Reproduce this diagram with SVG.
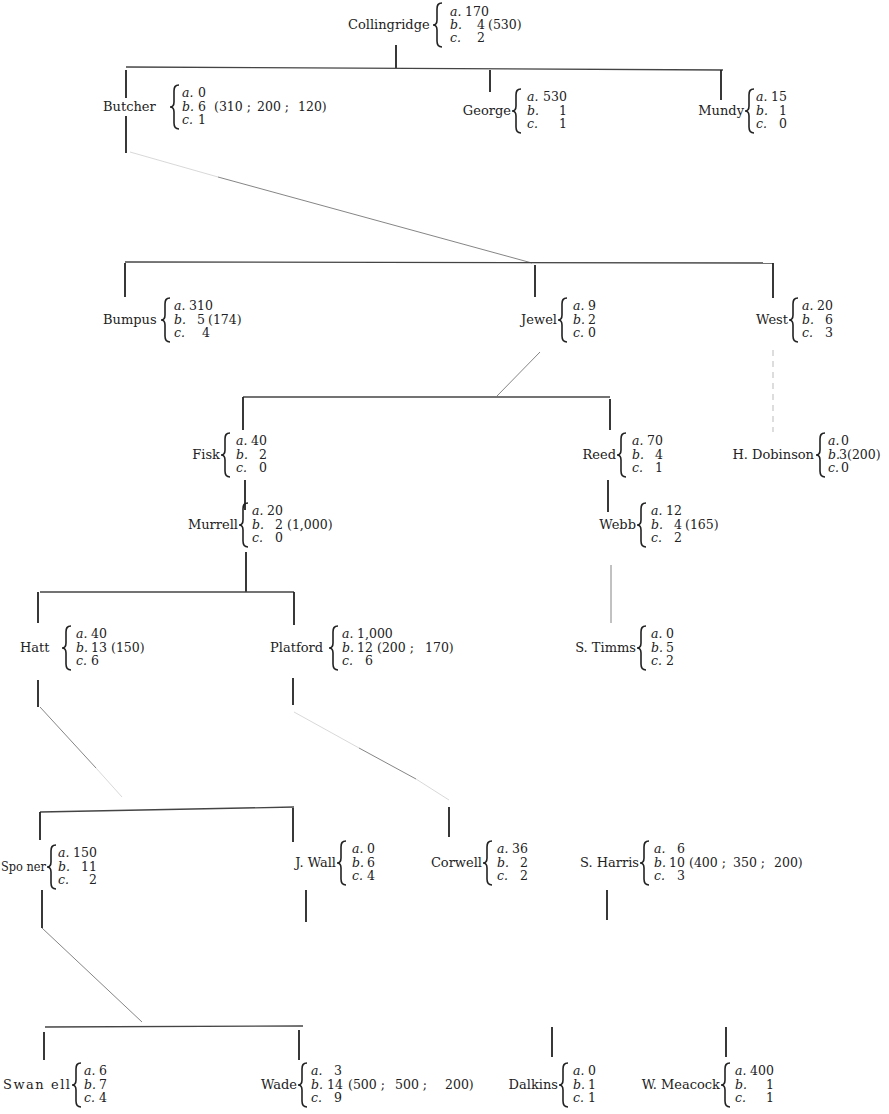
<svg xmlns="http://www.w3.org/2000/svg" xmlns:xlink="http://www.w3.org/1999/xlink" width="889" height="1114" viewBox="0 0 889 1114">
<style>
text{font-family:"DejaVu Serif","Liberation Serif",serif;fill:#222}
.n{font-size:13px}
.e{text-anchor:end}
.r{font-size:12.5px}
.i{font-style:italic}
.v{stroke:#222;stroke-width:1.8;fill:none}
.h{stroke:#444;stroke-width:1.3;fill:none}
.d{stroke:#777;stroke-width:0.9;fill:none}
.g{stroke:#d4d4d4;stroke-width:0.9;fill:none}
.f{stroke:#bbb;stroke-width:1;fill:none;stroke-dasharray:6 5}
.b{stroke:#222;stroke-width:1.6;fill:none}
</style>
<defs>
<path id="br" class="b" d="M9,0 C5,0 4,2 4,6 L4,17 C4,20 3,22 0,22 C3,22 4,24 4,27 L4,38 C4,42 5,44 9,44"/>
</defs>
<rect width="889" height="1114" fill="#fff"/>
<g id="connectors">
<line class="v" x1="396" y1="45" x2="396" y2="68"/>
<line class="h" x1="126" y1="67" x2="723" y2="70"/>
<line class="v" x1="126" y1="70" x2="126" y2="98"/>
<line class="v" x1="126" y1="116" x2="126" y2="153"/>
<line class="v" x1="490" y1="70" x2="490" y2="92"/>
<line class="v" x1="721" y1="70" x2="721" y2="100"/>
<line class="g" x1="130" y1="152" x2="218" y2="177"/>
<line class="d" x1="218" y1="177" x2="532" y2="263"/>
<line class="h" x1="125" y1="262" x2="773" y2="263"/>
<line class="v" x1="125" y1="263" x2="125" y2="297"/>
<line class="v" x1="535" y1="265" x2="535" y2="297"/>
<line class="v" x1="773" y1="263" x2="773" y2="298"/>
<line class="f" x1="773" y1="350" x2="773" y2="432"/>
<line class="d" x1="540" y1="352" x2="497" y2="396"/>
<line class="h" x1="243" y1="397" x2="610" y2="397"/>
<line class="v" x1="243" y1="397" x2="243" y2="430"/>
<line class="v" x1="610" y1="399" x2="610" y2="430"/>
<line class="v" x1="245" y1="480" x2="245" y2="510"/>
<line class="v" x1="608" y1="480" x2="608" y2="512"/>
<line class="v" x1="246" y1="552" x2="246" y2="592"/>
<line class="h" x1="40" y1="592" x2="294" y2="592"/>
<line class="v" x1="38" y1="592" x2="38" y2="623"/>
<line class="v" x1="294" y1="592" x2="294" y2="625"/>
<line class="d" x1="611" y1="565" x2="611" y2="623"/>
<line class="v" x1="38" y1="680" x2="38" y2="707"/>
<line class="v" x1="293" y1="678" x2="293" y2="705"/>
<line class="d" x1="40" y1="707" x2="96" y2="768"/>
<line class="g" x1="96" y1="768" x2="122" y2="797"/>
<line class="g" x1="294" y1="712" x2="359" y2="748"/>
<line class="d" x1="359" y1="748" x2="416" y2="779"/>
<line class="g" x1="416" y1="779" x2="449" y2="800"/>
<line class="h" x1="40" y1="812" x2="294" y2="807"/>
<line class="v" x1="40" y1="812" x2="40" y2="840"/>
<line class="v" x1="293" y1="808" x2="293" y2="842"/>
<line class="v" x1="449" y1="807" x2="449" y2="837"/>
<line class="v" x1="42" y1="890" x2="42" y2="928"/>
<line class="v" x1="306" y1="890" x2="306" y2="922"/>
<line class="v" x1="607" y1="890" x2="607" y2="920"/>
<line class="d" x1="42" y1="928" x2="142" y2="1022"/>
<line class="h" x1="45" y1="1027" x2="303" y2="1026"/>
<line class="v" x1="44" y1="1032" x2="44" y2="1060"/>
<line class="v" x1="299" y1="1030" x2="299" y2="1060"/>
<line class="v" x1="552" y1="1027" x2="552" y2="1057"/>
<line class="v" x1="726" y1="1027" x2="726" y2="1057"/>
</g>
<g id="collingridge">
<text class="n" x="348" y="29">Collingridge</text>
<use xlink:href="#br" x="433" y="3"/>
<text class="r" x="450" y="16"><tspan class="i">a.</tspan><tspan x="465">170</tspan></text>
<text class="r" x="450" y="29"><tspan class="i">b.</tspan><tspan x="477">4</tspan><tspan x="488">(530)</tspan></text>
<text class="r" x="450" y="42"><tspan class="i">c.</tspan><tspan x="477">2</tspan></text>
</g>
<g id="butcher">
<text class="n" x="103" y="111">Butcher</text>
<use xlink:href="#br" x="170" y="85"/>
<text class="r" x="182" y="97"><tspan class="i">a.</tspan><tspan x="198">0</tspan></text>
<text class="r" x="182" y="111"><tspan class="i">b.</tspan><tspan x="198">6</tspan><tspan x="214">(310 ;</tspan><tspan x="257">200 ;</tspan><tspan x="298">120)</tspan></text>
<text class="r" x="182" y="124"><tspan class="i">c.</tspan><tspan x="198">1</tspan></text>
</g>
<g id="george">
<text class="n e" x="511" y="115">George</text>
<use xlink:href="#br" x="512" y="89"/>
<text class="r" x="527" y="101"><tspan class="i">a.</tspan><tspan x="543">530</tspan></text>
<text class="r" x="527" y="115"><tspan class="i">b.</tspan><tspan x="559">1</tspan></text>
<text class="r" x="527" y="128"><tspan class="i">c.</tspan><tspan x="559">1</tspan></text>
</g>
<g id="mundy">
<text class="n e" x="744" y="115">Mundy</text>
<use xlink:href="#br" x="745" y="89"/>
<text class="r" x="756" y="101"><tspan class="i">a.</tspan><tspan x="771">15</tspan></text>
<text class="r" x="756" y="115"><tspan class="i">b.</tspan><tspan x="779">1</tspan></text>
<text class="r" x="756" y="128"><tspan class="i">c.</tspan><tspan x="779">0</tspan></text>
</g>
<g id="bumpus">
<text class="n" x="103" y="324">Bumpus</text>
<use xlink:href="#br" x="161" y="298"/>
<text class="r" x="174" y="310"><tspan class="i">a.</tspan><tspan x="189">310</tspan></text>
<text class="r" x="174" y="324"><tspan class="i">b.</tspan><tspan x="197">5</tspan><tspan x="208">(174)</tspan></text>
<text class="r" x="174" y="337"><tspan class="i">c.</tspan><tspan x="202">4</tspan></text>
</g>
<g id="jewel">
<text class="n e" x="557" y="324">Jewel</text>
<use xlink:href="#br" x="558" y="298"/>
<text class="r" x="573" y="310"><tspan class="i">a.</tspan><tspan x="588">9</tspan></text>
<text class="r" x="573" y="324"><tspan class="i">b.</tspan><tspan x="588">2</tspan></text>
<text class="r" x="573" y="337"><tspan class="i">c.</tspan><tspan x="588">0</tspan></text>
</g>
<g id="west">
<text class="n e" x="788" y="324">West</text>
<use xlink:href="#br" x="789" y="298"/>
<text class="r" x="802" y="310"><tspan class="i">a.</tspan><tspan x="817">20</tspan></text>
<text class="r" x="802" y="324"><tspan class="i">b.</tspan><tspan x="825">6</tspan></text>
<text class="r" x="802" y="337"><tspan class="i">c.</tspan><tspan x="825">3</tspan></text>
</g>
<g id="fisk">
<text class="n e" x="220" y="459">Fisk</text>
<use xlink:href="#br" x="221" y="433"/>
<text class="r" x="236" y="445"><tspan class="i">a.</tspan><tspan x="251">40</tspan></text>
<text class="r" x="236" y="459"><tspan class="i">b.</tspan><tspan x="259">2</tspan></text>
<text class="r" x="236" y="472"><tspan class="i">c.</tspan><tspan x="259">0</tspan></text>
</g>
<g id="reed">
<text class="n e" x="616" y="459">Reed</text>
<use xlink:href="#br" x="617" y="433"/>
<text class="r" x="632" y="445"><tspan class="i">a.</tspan><tspan x="647">70</tspan></text>
<text class="r" x="632" y="459"><tspan class="i">b.</tspan><tspan x="655">4</tspan></text>
<text class="r" x="632" y="472"><tspan class="i">c.</tspan><tspan x="655">1</tspan></text>
</g>
<g id="h-dobinson">
<text class="n e" x="814" y="459">H. Dobinson</text>
<use xlink:href="#br" x="816" y="433"/>
<text class="r" x="828" y="445"><tspan class="i">a.</tspan><tspan x="841">0</tspan></text>
<text class="r" x="828" y="459"><tspan class="i">b.</tspan><tspan x="839">3</tspan><tspan x="847">(200)</tspan></text>
<text class="r" x="828" y="472"><tspan class="i">c.</tspan><tspan x="841">0</tspan></text>
</g>
<g id="murrell">
<text class="n e" x="238" y="529">Murrell</text>
<use xlink:href="#br" x="239" y="503"/>
<text class="r" x="252" y="515"><tspan class="i">a.</tspan><tspan x="267">20</tspan></text>
<text class="r" x="252" y="529"><tspan class="i">b.</tspan><tspan x="275">2</tspan><tspan x="287">(1,000)</tspan></text>
<text class="r" x="252" y="542"><tspan class="i">c.</tspan><tspan x="275">0</tspan></text>
</g>
<g id="webb">
<text class="n e" x="636" y="529">Webb</text>
<use xlink:href="#br" x="637" y="503"/>
<text class="r" x="651" y="515"><tspan class="i">a.</tspan><tspan x="666">12</tspan></text>
<text class="r" x="651" y="529"><tspan class="i">b.</tspan><tspan x="674">4</tspan><tspan x="685">(165)</tspan></text>
<text class="r" x="651" y="542"><tspan class="i">c.</tspan><tspan x="674">2</tspan></text>
</g>
<g id="hatt">
<text class="n" x="20" y="652">Hatt</text>
<use xlink:href="#br" x="62" y="626"/>
<text class="r" x="76" y="638"><tspan class="i">a.</tspan><tspan x="91">40</tspan></text>
<text class="r" x="76" y="652"><tspan class="i">b.</tspan><tspan x="91">13</tspan><tspan x="111">(150)</tspan></text>
<text class="r" x="76" y="665"><tspan class="i">c.</tspan><tspan x="91">6</tspan></text>
</g>
<g id="platford">
<text class="n" x="270" y="652">Platford</text>
<use xlink:href="#br" x="329" y="626"/>
<text class="r" x="342" y="638"><tspan class="i">a.</tspan><tspan x="357">1,000</tspan></text>
<text class="r" x="342" y="652"><tspan class="i">b.</tspan><tspan x="357">12</tspan><tspan x="377">(200 ;</tspan><tspan x="425">170)</tspan></text>
<text class="r" x="342" y="665"><tspan class="i">c.</tspan><tspan x="365">6</tspan></text>
</g>
<g id="s-timms">
<text class="n e" x="636" y="652">S. Timms</text>
<use xlink:href="#br" x="637" y="626"/>
<text class="r" x="651" y="638"><tspan class="i">a.</tspan><tspan x="666">0</tspan></text>
<text class="r" x="651" y="652"><tspan class="i">b.</tspan><tspan x="666">5</tspan></text>
<text class="r" x="651" y="665"><tspan class="i">c.</tspan><tspan x="666">2</tspan></text>
</g>
<g id="spooner">
<text class="n" x="1" y="871" textLength="45" lengthAdjust="spacingAndGlyphs">Spo ner</text>
<use xlink:href="#br" x="47" y="845"/>
<text class="r" x="58" y="857"><tspan class="i">a.</tspan><tspan x="73">150</tspan></text>
<text class="r" x="58" y="871"><tspan class="i">b.</tspan><tspan x="81">11</tspan></text>
<text class="r" x="58" y="884"><tspan class="i">c.</tspan><tspan x="89">2</tspan></text>
</g>
<g id="j-wall">
<text class="n e" x="336" y="867">J. Wall</text>
<use xlink:href="#br" x="337" y="841"/>
<text class="r" x="352" y="853"><tspan class="i">a.</tspan><tspan x="367">0</tspan></text>
<text class="r" x="352" y="867"><tspan class="i">b.</tspan><tspan x="367">6</tspan></text>
<text class="r" x="352" y="880"><tspan class="i">c.</tspan><tspan x="367">4</tspan></text>
</g>
<g id="corwell">
<text class="n e" x="482" y="867">Corwell</text>
<use xlink:href="#br" x="483" y="841"/>
<text class="r" x="497" y="853"><tspan class="i">a.</tspan><tspan x="512">36</tspan></text>
<text class="r" x="497" y="867"><tspan class="i">b.</tspan><tspan x="520">2</tspan></text>
<text class="r" x="497" y="880"><tspan class="i">c.</tspan><tspan x="520">2</tspan></text>
</g>
<g id="s-harris">
<text class="n e" x="639" y="867">S. Harris</text>
<use xlink:href="#br" x="640" y="841"/>
<text class="r" x="654" y="853"><tspan class="i">a.</tspan><tspan x="677">6</tspan></text>
<text class="r" x="654" y="867"><tspan class="i">b.</tspan><tspan x="669">10</tspan><tspan x="689">(400 ;</tspan><tspan x="733">350 ;</tspan><tspan x="774">200)</tspan></text>
<text class="r" x="654" y="880"><tspan class="i">c.</tspan><tspan x="677">3</tspan></text>
</g>
<g id="swannell">
<text class="n" x="3" y="1089" textLength="67">Swan ell</text>
<use xlink:href="#br" x="72" y="1063"/>
<text class="r" x="84" y="1075"><tspan class="i">a.</tspan><tspan x="99">6</tspan></text>
<text class="r" x="84" y="1089"><tspan class="i">b.</tspan><tspan x="99">7</tspan></text>
<text class="r" x="84" y="1102"><tspan class="i">c.</tspan><tspan x="99">4</tspan></text>
</g>
<g id="wade">
<text class="n e" x="297" y="1089">Wade</text>
<use xlink:href="#br" x="298" y="1063"/>
<text class="r" x="311" y="1075"><tspan class="i">a.</tspan><tspan x="334">3</tspan></text>
<text class="r" x="311" y="1089"><tspan class="i">b.</tspan><tspan x="327">14</tspan><tspan x="348">(500 ;</tspan><tspan x="395">500 ;</tspan><tspan x="445">200)</tspan></text>
<text class="r" x="311" y="1102"><tspan class="i">c.</tspan><tspan x="334">9</tspan></text>
</g>
<g id="dalkins">
<text class="n e" x="558" y="1089">Dalkins</text>
<use xlink:href="#br" x="559" y="1063"/>
<text class="r" x="573" y="1075"><tspan class="i">a.</tspan><tspan x="588">0</tspan></text>
<text class="r" x="573" y="1089"><tspan class="i">b.</tspan><tspan x="588">1</tspan></text>
<text class="r" x="573" y="1102"><tspan class="i">c.</tspan><tspan x="588">1</tspan></text>
</g>
<g id="w-meacock">
<text class="n e" x="720" y="1089">W. Meacock</text>
<use xlink:href="#br" x="721" y="1063"/>
<text class="r" x="735" y="1075"><tspan class="i">a.</tspan><tspan x="750">400</tspan></text>
<text class="r" x="735" y="1089"><tspan class="i">b.</tspan><tspan x="766">1</tspan></text>
<text class="r" x="735" y="1102"><tspan class="i">c.</tspan><tspan x="766">1</tspan></text>
</g>
</svg>
